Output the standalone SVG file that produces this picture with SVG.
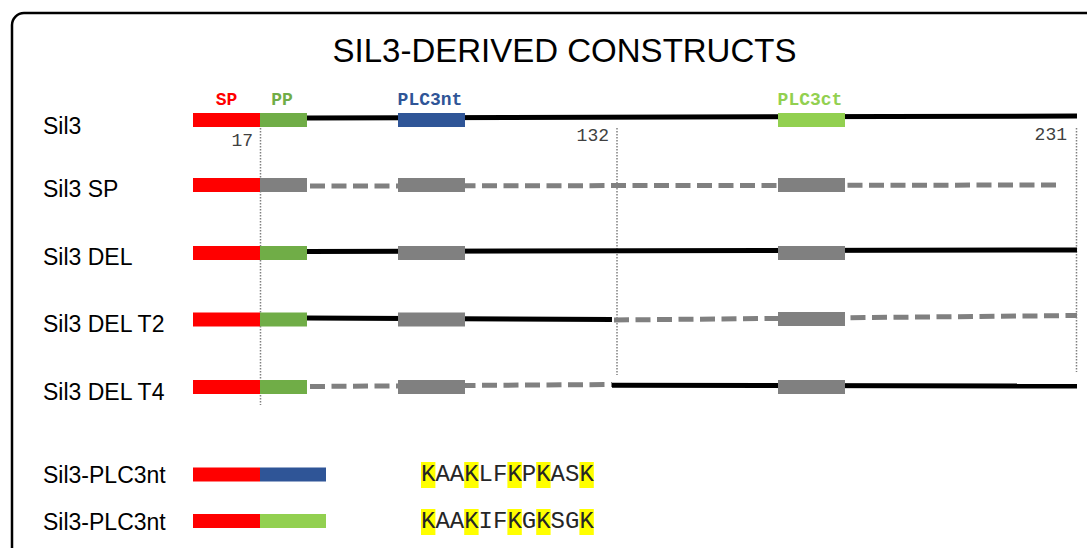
<svg xmlns="http://www.w3.org/2000/svg" width="1087" height="548" viewBox="0 0 1087 548">
<style>
.lbl{font-family:"Liberation Sans",Arial,sans-serif;font-size:23px;fill:#000}
.title{font-family:"Liberation Sans",Arial,sans-serif;font-size:33px;fill:#000}
.dom{font-family:"Liberation Mono","Courier New",monospace;font-size:18px;font-weight:bold;text-anchor:middle}
.num{font-family:"Liberation Mono","Courier New",monospace;font-size:18px;fill:#404040;text-anchor:end}
.seq{font-family:"Liberation Mono","Courier New",monospace;font-size:24px;fill:#262626}
.hl{fill:#FFFF00}
.sp{fill:#FF0000}
.pp{fill:#70AD47}
.nt{fill:#2F5597}
.ct{fill:#92D050}
.gr{fill:#808080}
.solid{stroke:#000;stroke-width:5;fill:none}
.dash{stroke:#808080;stroke-width:5;fill:none;stroke-dasharray:15 6.5}
.dot{stroke:#808080;stroke-width:1.5;fill:none;stroke-dasharray:1.5 1.5}
</style>
<rect x="12" y="13" width="1100" height="560" rx="12" ry="12" fill="#fff" stroke="#000" stroke-width="2.5"/>
<text class="title" x="564.5" y="62" text-anchor="middle">SIL3-DERIVED CONSTRUCTS</text>

<g id="guides">
<line class="dot" x1="260.5" y1="128" x2="260.5" y2="405"/>
<line class="dot" x1="617" y1="128" x2="617" y2="375"/>
<line class="dot" x1="1076.5" y1="128" x2="1076.5" y2="372"/>
</g>

<g id="connectors">
<line class="solid" x1="307" y1="118" x2="1077" y2="116"/>
<line class="dash" x1="310" y1="186" x2="1060" y2="185"/>
<line class="solid" x1="307" y1="251.5" x2="1077" y2="250"/>
<line class="solid" x1="307" y1="318" x2="612" y2="319.5"/>
<line class="dash" x1="614" y1="320" x2="1077" y2="315.5"/>
<line class="dash" x1="310" y1="386.5" x2="612" y2="384.5"/>
<line class="solid" x1="612" y1="385.3" x2="1077" y2="386"/>
</g>

<g id="sil3">
<text class="lbl" x="43" y="134">Sil3</text>
<rect class="sp" x="193" y="113" width="67" height="14"/>
<rect class="pp" x="260" y="113" width="47" height="14"/>
<rect class="nt" x="398" y="113" width="67" height="14"/>
<rect class="ct" x="778" y="113" width="67" height="14"/>
<text class="dom" x="226.5" y="105" fill="#FF0000">SP</text>
<text class="dom" x="282" y="105" fill="#70AD47">PP</text>
<text class="dom" x="430" y="105" fill="#2F5597">PLC3nt</text>
<text class="dom" x="810" y="105" fill="#92D050">PLC3ct</text>
<text class="num" x="253" y="146">17</text>
<text class="num" x="609" y="141">132</text>
<text class="num" x="1067" y="140">231</text>
</g>

<g id="sil3-sp">
<text class="lbl" x="43" y="197">Sil3 SP</text>
<rect class="sp" x="193" y="178" width="67" height="14"/>
<rect class="gr" x="260" y="178" width="47" height="14"/>
<rect class="gr" x="398" y="178" width="67" height="14"/>
<rect class="gr" x="778" y="178" width="67" height="14"/>
</g>

<g id="sil3-del">
<text class="lbl" x="43" y="265">Sil3 DEL</text>
<rect class="sp" x="193" y="246" width="67" height="14"/>
<rect class="pp" x="260" y="246" width="47" height="14"/>
<rect class="gr" x="398" y="246" width="67" height="14"/>
<rect class="gr" x="778" y="246" width="67" height="14"/>
</g>

<g id="sil3-del-t2">
<text class="lbl" x="43" y="332">Sil3 DEL T2</text>
<rect class="sp" x="193" y="312.5" width="67" height="14"/>
<rect class="pp" x="260" y="312.5" width="47" height="14"/>
<rect class="gr" x="398" y="312.5" width="67" height="14"/>
<rect class="gr" x="778" y="312" width="67" height="14"/>
</g>

<g id="sil3-del-t4">
<text class="lbl" x="43" y="400">Sil3 DEL T4</text>
<rect class="sp" x="193" y="380" width="67" height="14"/>
<rect class="pp" x="260" y="380" width="47" height="14"/>
<rect class="gr" x="398" y="380" width="67" height="14"/>
<rect class="gr" x="778" y="380" width="67" height="14"/>
</g>

<g id="sil3-plc3nt-1">
<text class="lbl" x="43" y="483">Sil3-PLC3nt</text>
<rect class="sp" x="193" y="467.5" width="67" height="14"/>
<rect class="nt" x="260" y="467.5" width="66" height="14"/>
<rect class="hl" x="421" y="462" width="14.4" height="26"/>
<rect class="hl" x="464.2" y="462" width="14.4" height="26"/>
<rect class="hl" x="507.4" y="462" width="14.4" height="26"/>
<rect class="hl" x="536.2" y="462" width="14.4" height="26"/>
<rect class="hl" x="579.4" y="462" width="14.4" height="26"/>
<text class="seq" x="421" y="481">KAAKLFKPKASK</text>
</g>

<g id="sil3-plc3nt-2">
<text class="lbl" x="43" y="530">Sil3-PLC3nt</text>
<rect class="sp" x="193" y="514" width="67" height="14"/>
<rect class="ct" x="260" y="514" width="66" height="14"/>
<rect class="hl" x="421" y="509" width="14.4" height="26"/>
<rect class="hl" x="464.2" y="509" width="14.4" height="26"/>
<rect class="hl" x="507.4" y="509" width="14.4" height="26"/>
<rect class="hl" x="536.2" y="509" width="14.4" height="26"/>
<rect class="hl" x="579.4" y="509" width="14.4" height="26"/>
<text class="seq" x="421" y="528">KAAKIFKGKSGK</text>
</g>
</svg>
